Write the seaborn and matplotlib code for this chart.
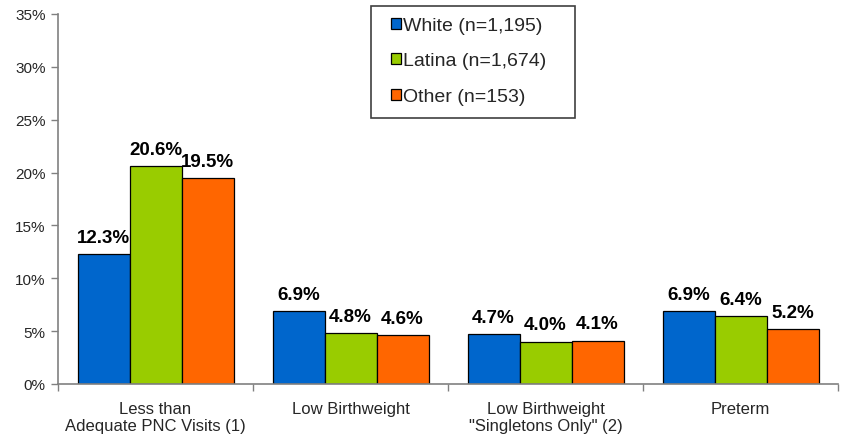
import matplotlib
matplotlib.use("Agg")
import matplotlib.pyplot as plt
from matplotlib.patches import Rectangle
import seaborn as sns
import pandas as pd
import numpy as np

categories = ["Less than\nAdequate PNC Visits (1)", "Low Birthweight",
              "Low Birthweight\n\"Singletons Only\" (2)", "Preterm"]
groups = ["White (n=1,195)", "Latina (n=1,674)", "Other (n=153)"]
white = [12.3, 6.9, 4.7, 6.9]
latina = [20.6, 4.8, 4.0, 6.4]
other = [19.5, 4.6, 4.1, 5.2]
colors = ["#0066CC", "#99CC00", "#FF6600"]

rows = []
for g, vals in zip(groups, [white, latina, other]):
    for c, v in zip(categories, vals):
        rows.append({"Measure": c, "Group": g, "Percent": v})
df = pd.DataFrame(rows)

sns.set_theme(style="white")
plt.rcParams["font.family"] = ["Liberation Sans", "DejaVu Sans"]

W, H = 846, 435
fig = plt.figure(figsize=(W / 100, H / 100), dpi=100)
ax = fig.add_axes([58 / W, 50 / H, 780 / W, 370 / H])

sns.barplot(data=df, x="Measure", y="Percent", hue="Group", order=categories,
            hue_order=groups, palette=colors, width=0.8, edgecolor="black",
            linewidth=0.9, saturation=1, ax=ax, legend=True)

for cont in ax.containers:
    ax.bar_label(cont, labels=[f"{b.get_height():.1f}%" for b in cont],
                 padding=6, fontsize=13.5, fontweight="bold", color="black")

ax.set_ylim(0, 35)
ax.set_yticks(np.arange(0, 36, 5))
ax.set_yticklabels([f"{t}%" for t in range(0, 36, 5)], fontsize=11)
ax.set_xlim(-0.5, len(categories) - 0.5)
ax.tick_params(axis="x", which="major", length=0, pad=12, labelsize=12)
ax.set_xticks(np.arange(-0.5, len(categories)), minor=True)
ax.tick_params(axis="x", which="minor", length=5, width=1, color="#808080",
               direction="out", bottom=True)
ax.tick_params(axis="y", length=5, width=1, color="#808080", direction="out",
               left=True, pad=4)
ax.set_xlabel("")
ax.set_ylabel("")

for side in ["top", "right"]:
    ax.spines[side].set_visible(False)
for side in ["left", "bottom"]:
    ax.spines[side].set_color("#808080")
    ax.spines[side].set_linewidth(1.2)

# Legend entries, with a separate box drawn around them
handles, labels = ax.get_legend_handles_labels()
leg = ax.legend(handles, labels, loc="upper left",
                bbox_to_anchor=(391 / W, 1 - 18 / H),
                bbox_transform=fig.transFigure, fontsize=14, frameon=False,
                handlelength=0.5, handleheight=0.5, handletextpad=0.12,
                labelspacing=0.95, borderpad=0, borderaxespad=0)
leg.set_zorder(6)
for h in leg.legend_handles:
    h.set_edgecolor("black")
    h.set_linewidth(0.9)

ax.add_patch(Rectangle((371 / W, 1 - 119 / H), 204 / W, 112 / H,
                       transform=fig.transFigure, clip_on=False, fill=True,
                       facecolor="white", edgecolor="#404040",
                       linewidth=1.2, zorder=5))

fig.savefig("out.png", dpi=100)
